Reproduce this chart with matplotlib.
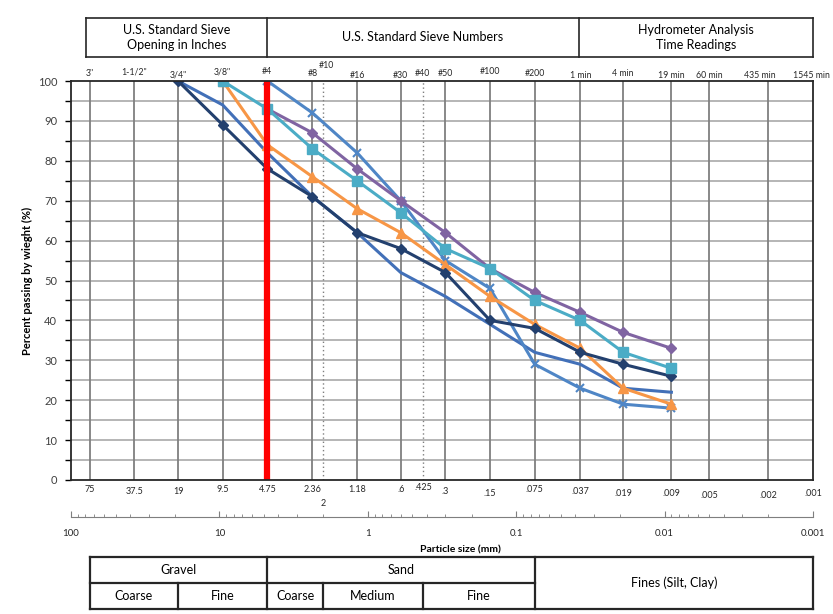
import numpy as np
import matplotlib
matplotlib.use("Agg")
import matplotlib.pyplot as plt
from matplotlib.transforms import blended_transform_factory
from matplotlib.ticker import FixedLocator, FixedFormatter, LogLocator, NullFormatter

plt.rcParams['font.family'] = ['Lato', 'DejaVu Sans']

# sieve sizes (mm) where the samples were read
sizes = [19, 9.5, 4.75, 2.36, 1.18, 0.6, 0.3, 0.15, 0.075, 0.037, 0.019, 0.009]

# percent passing for each sample
navy = [100, 89, 78, 71, 62, 58, 52, 40, 38, 32, 29, 26]
blue = [100, 94, 82, 71, 62, 52, 46, 39, 32, 29, 23, 22]
orange = [100, 84, 76, 68, 62, 54, 46, 39, 33, 23, 19]      # from 9.5 mm
teal = [100, 93, 83, 75, 67, 58, 53, 45, 40, 32, 28]        # from 9.5 mm
purple = [93, 87, 78, 70, 62, 53, 47, 42, 37, 33]           # from 4.75 mm
cross = [100, 92, 82, 70, 55, 48, 29, 23, 19, 18]           # from 4.75 mm

# vertical reference lines
grid_sizes = [75, 37.5, 19, 9.5, 4.75, 2.36, 1.18, 0.6, 0.3, 0.15, 0.075,
              0.037, 0.019, 0.009, 0.005, 0.002]
dotted_sizes = [2, 0.425]

top_sizes = [75, 37.5, 19, 9.5, 4.75, 2.36, 2, 1.18, 0.6, 0.425, 0.3, 0.15,
             0.075, 0.037, 0.019, 0.009, 0.005, 0.002, 0.001]
top_labels = ['3"', '1-1/2"', '3/4"', '3/8"', '#4', '#8', '#10', '#16', '#30',
              '#40', '#50', '#100', '#200', '1 min', '4 min', '19 min',
              '60 min', '435 min', '1545 min']
top_dy = [8, 9, 6, 9, 10, 8, 15, 6, 6, 7, 7, 10, 7, 5, 7, 6, 6, 6, 6]
top_dx = [0, 0, 0, 0, 0, 0, 3, 0, 0, 0, 0, 0, 0, 0, 0, 0, 0, -9, -2]

bot_labels = ['75', '37.5', '19', '9.5', '4.75', '2.36', '2', '1.18', '.6',
              '.425', '.3', '.15', '.075', '.037', '.019', '.009', '.005',
              '.002', '.001']
bot_dy = [9, 11, 11, 10, 10, 10, 23, 10, 9, 7, 12, 14, 9, 11, 14, 14, 15, 15, 13]

W, H = 833, 614
fig = plt.figure(figsize=(W / 100, H / 100), dpi=100)
ax = fig.add_axes([71 / W, 1 - 480 / H, (813 - 71) / W, (480 - 81) / H])

ax.set_xscale('log')
ax.set_xlim(100, 0.001)
ax.set_ylim(0, 100)

# grid
for y in range(5, 100, 5):
    ax.axhline(y, color='#b0b0b0', lw=1.3, zorder=1)
for s in grid_sizes:
    ax.axvline(s, color='#7f7f7f', lw=1.3, zorder=1)
for s in dotted_sizes:
    ax.axvline(s, color='#7f7f7f', lw=1.0, ls=(0, (1, 2)), zorder=1)

# samples
ax.plot(sizes, blue, color='#4270b8', lw=2.2, zorder=3)
ax.plot(sizes[2:], cross, color='#4f86c6', lw=2.2, marker='x', ms=6, mew=1.5, zorder=3)
ax.plot(sizes[1:], orange, color='#f79646', lw=2.2, marker='^', ms=7, zorder=4)
ax.plot(sizes, navy, color='#23406e', lw=2.2, marker='D', ms=5, zorder=4)
ax.plot(sizes[2:], purple, color='#8064a2', lw=2.2, marker='D', ms=5.5, zorder=4)
ax.plot(sizes[1:], teal, color='#4bacc6', lw=2.2, marker='s', ms=7.5, zorder=5)

# #4 sieve cut line
ax.axvline(4.75, color='#ff0000', lw=4.5, zorder=6)

for side in ['left', 'bottom', 'top', 'right']:
    ax.spines[side].set_color('#262626')
    ax.spines[side].set_linewidth(1.3)
    ax.spines[side].set_zorder(7)

ax.set_yticks(range(0, 101, 10))
ax.set_yticks(range(5, 100, 10), minor=True)
ax.tick_params(axis='y', which='both', direction='out', length=4, width=1,
               labelsize=8, labelcolor='#404040', pad=6)
ax.tick_params(axis='x', which='both', bottom=False, labelbottom=False)
ax.set_ylabel('Percent passing by wieght (%)', fontsize=8, fontweight='bold', labelpad=3)

# sieve names above, sizes below
for s, lab, dy, dx in zip(top_sizes, top_labels, top_dy, top_dx):
    ax.annotate(lab, xy=(s, 1), xycoords=('data', 'axes fraction'),
                xytext=(dx, dy), textcoords='offset pixels',
                ha='center', va='center', fontsize=6.3, color='#262626')
for s, lab, dy in zip(top_sizes, bot_labels, bot_dy):
    ax.annotate(lab, xy=(s, 0), xycoords=('data', 'axes fraction'),
                xytext=(0, -dy), textcoords='offset pixels',
                ha='center', va='center', fontsize=6.5, color='#262626')

# plain log axis underneath
ax2 = fig.add_axes([71 / W, 1 - 517 / H, (813 - 71) / W, 0.0001])
ax2.set_xscale('log')
ax2.set_xlim(100, 0.001)
ax2.set_facecolor('none')
for side in ['left', 'top', 'right']:
    ax2.spines[side].set_visible(False)
ax2.spines['bottom'].set_color('#7f7f7f')
ax2.set_yticks([])
ax2.xaxis.set_major_locator(FixedLocator([100, 10, 1, 0.1, 0.01, 0.001]))
ax2.xaxis.set_major_formatter(FixedFormatter(['100', '10', '1', '0.1', '0.01', '0.001']))
ax2.xaxis.set_minor_locator(LogLocator(base=10, subs=np.arange(2, 10)))
ax2.xaxis.set_minor_formatter(NullFormatter())
ax2.tick_params(axis='x', which='major', direction='in', length=4, color='#7f7f7f',
                labelsize=7, labelcolor='#262626', pad=9)
ax2.tick_params(axis='x', which='minor', direction='in', length=2.5, color='#7f7f7f')

fig.text(460 / W, 1 - 550 / H, 'Particle size (mm)', ha='center', va='center',
         fontsize=7.5, fontweight='bold')

# header boxes and soil classification table (x in mm, y in figure units)
tr = blended_transform_factory(ax.transData, fig.transFigure)

def box_line(x0, x1, y0, y1, lw=1.2):
    ax.plot([x0, x1], [y0, y1], color='#262626', lw=lw, transform=tr, clip_on=False)

ht, hb = 1 - 18 / H, 1 - 56.5 / H
box_line(79, 0.001, ht, ht)
box_line(79, 0.001, hb, hb)
for s in [79, 4.75, 0.038, 0.001]:
    box_line(s, s, hb, ht)
hy = (ht + hb) / 2
ax.text(np.sqrt(79 * 4.75), hy, 'U.S. Standard Sieve\nOpening in Inches', transform=tr,
        ha='center', va='center', fontsize=9, linespacing=1.3)
ax.text(np.sqrt(4.75 * 0.038), hy, 'U.S. Standard Sieve Numbers', transform=tr,
        ha='center', va='center', fontsize=9)
ax.text(np.sqrt(0.038 * 0.001), hy, 'Hydrometer Analysis\nTime Readings', transform=tr,
        ha='center', va='center', fontsize=9, linespacing=1.3)

tt, tm, tb = 1 - 557 / H, 1 - 583 / H, 1 - 609 / H
box_line(75, 0.001, tt, tt, 1.6)
box_line(75, 0.075, tm, tm, 1.6)
box_line(75, 0.001, tb, tb, 1.6)
for s in [75, 4.75, 0.075, 0.001]:
    box_line(s, s, tb, tt, 1.6)
for s in [19, 2, 0.425]:
    box_line(s, s, tb, tm, 1.6)

r1, r2 = (tt + tm) / 2, (tm + tb) / 2
cells = [('Gravel', 75, 4.75, r1), ('Sand', 4.75, 0.075, r1),
         ('Fines (Silt, Clay)', 0.075, 0.001, (tt + tb) / 2),
         ('Coarse', 75, 19, r2), ('Fine', 19, 4.75, r2), ('Coarse', 4.75, 2, r2),
         ('Medium', 2, 0.425, r2), ('Fine', 0.425, 0.075, r2)]
for lab, a, b, y in cells:
    ax.text(np.sqrt(a * b), y, lab, transform=tr, ha='center', va='center', fontsize=9)

ax.set_xlim(100, 0.001)
ax.set_ylim(0, 100)

fig.savefig('out.png', dpi=100)
